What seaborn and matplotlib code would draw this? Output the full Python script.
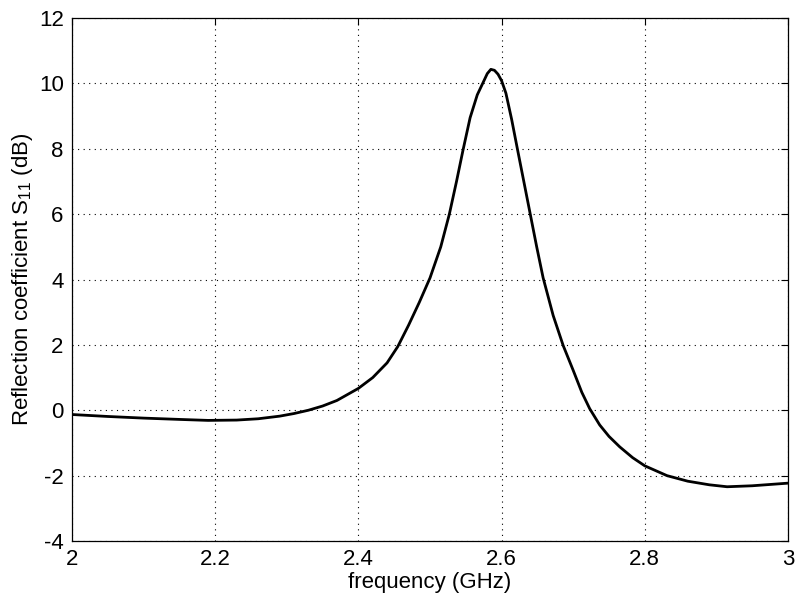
import matplotlib
matplotlib.use("Agg")
import matplotlib.pyplot as plt
import seaborn as sns
import pandas as pd

freq_ghz = [2.00, 2.05, 2.10, 2.15, 2.19, 2.23, 2.26, 2.29, 2.31, 2.33, 2.35, 2.37,
            2.40, 2.42, 2.44, 2.455, 2.47, 2.485, 2.50, 2.515, 2.527, 2.537, 2.546,
            2.556, 2.566, 2.574, 2.580, 2.585, 2.590, 2.595, 2.600, 2.606, 2.614,
            2.622, 2.631, 2.640, 2.649, 2.658, 2.672, 2.686, 2.700, 2.712, 2.723,
            2.737, 2.750, 2.765, 2.783, 2.800, 2.831, 2.86, 2.89, 2.915, 2.95, 3.00]
s11_db = [-0.13, -0.19, -0.24, -0.28, -0.31, -0.30, -0.26, -0.18, -0.10, 0.00, 0.13, 0.30,
          0.67, 1.00, 1.45, 1.95, 2.60, 3.30, 4.05, 5.00, 6.00, 7.00, 7.95,
          8.95, 9.65, 10.02, 10.30, 10.43, 10.40, 10.28, 10.08, 9.70, 8.90,
          8.00, 7.00, 6.00, 5.00, 4.05, 2.90, 1.98, 1.22, 0.55, 0.05,
          -0.45, -0.80, -1.12, -1.45, -1.70, -2.00, -2.17, -2.28, -2.34, -2.31, -2.23]

xticks = [2, 2.2, 2.4, 2.6, 2.8, 3]
xticklabels = ["2", "2.2", "2.4", "2.6", "2.8", "3"]
yticks = [-4, -2, 0, 2, 4, 6, 8, 10, 12]

sns.set_theme(style="white")
plt.rcParams["font.family"] = ["Liberation Sans", "DejaVu Sans"]
plt.rcParams["mathtext.default"] = "regular"
plt.rcParams["axes.unicode_minus"] = False

df = pd.DataFrame({"f": freq_ghz, "s": s11_db})

fig = plt.figure(figsize=(8.04, 6.15), dpi=100)
ax = fig.add_axes([0.0896, 0.1203, 0.8905, 0.8504])
sns.lineplot(data=df, x="f", y="s", ax=ax, color="black", linewidth=2.0, sort=False)

ax.set_xlim(2, 3)
ax.set_ylim(-4, 12)
ax.set_xticks(xticks)
ax.set_xticklabels(xticklabels)
ax.set_yticks(yticks)
ax.grid(True, color="black", linestyle=(0, (1, 4)), linewidth=0.8)
ax.tick_params(direction="in", length=5, width=0.8, colors="black",
               labelsize=16, top=True, right=True, pad=6)
for sp in ax.spines.values():
    sp.set_visible(True)
    sp.set_color("black")
    sp.set_linewidth(0.9)
ax.set_xlabel("frequency (GHz)", fontsize=16, color="black", labelpad=1)
ax.set_ylabel("Reflection coefficient S$_{11}$ (dB)", fontsize=16, color="black", labelpad=3)
fig.savefig("out.png", dpi=100, facecolor="white")
